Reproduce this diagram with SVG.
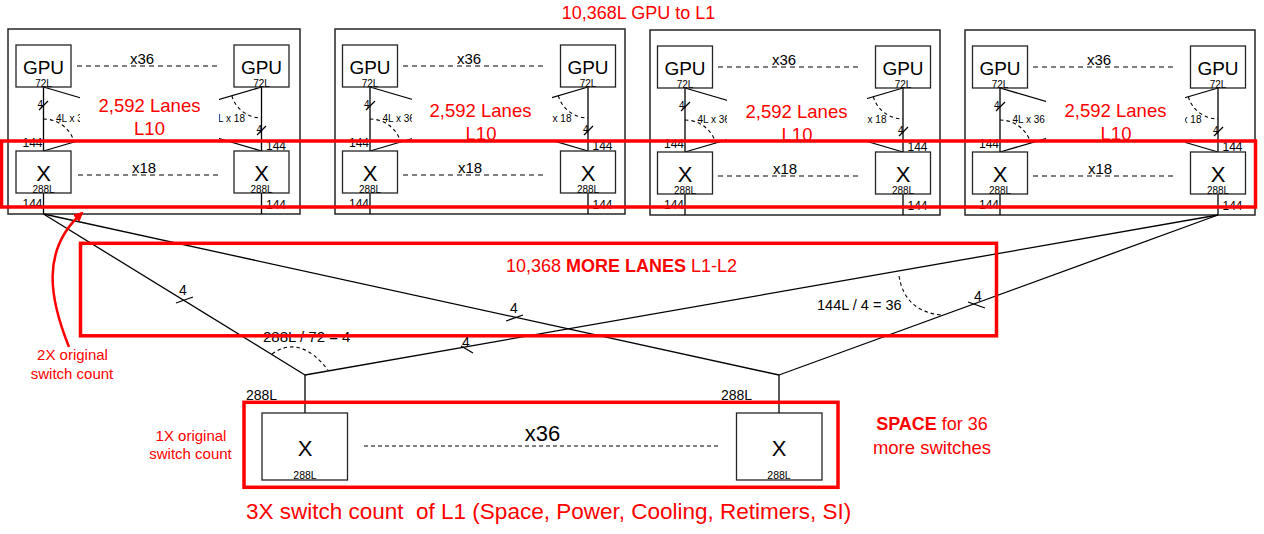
<svg xmlns="http://www.w3.org/2000/svg" width="1264" height="534" viewBox="0 0 1264 534">
<style>
text{font-family:"Liberation Sans",Arial,sans-serif;fill:#000}
.pod{fill:none;stroke:#262626;stroke-width:1.5}
.box{fill:#fff;stroke:#262626;stroke-width:1.3}
.ln{stroke:#000;stroke-width:1.3;fill:none}
.dash{stroke:#000;stroke-width:1.2;stroke-dasharray:5 4;fill:none}
.dash2{stroke:#000;stroke-width:1.2;stroke-dasharray:4 3;fill:none}
.arc{stroke:#000;stroke-width:1.1;stroke-dasharray:3.5 3;fill:none}
.red{fill:none;stroke:#FF0000;stroke-width:3.5}
.rt{fill:#FF0000}
.gpu{font-size:19px;text-anchor:middle}
.xs{font-size:22px;text-anchor:middle}
.sm{font-size:10px;text-anchor:middle}
.mid{font-size:15px;text-anchor:middle}
.n11{font-size:12px}
.n10{font-size:10px}
.big{font-size:18.5px;text-anchor:middle}
.wb{fill:#fff;stroke:none}
</style>
<defs>
<marker id="ah" viewBox="0 0 10 10" refX="8" refY="5" markerWidth="4" markerHeight="4" orient="auto" markerUnits="strokeWidth">
<path d="M0,0 L10,5 L0,10 z" fill="#FF0000"/>
</marker>
</defs>
<rect width="1264" height="534" fill="#fff"/>

<text class="rt" x="638.5" y="18.5" font-size="18" text-anchor="middle">10,368L GPU to L1</text>

<!-- POD 1 -->
<g id="pod1" transform="translate(8,29)">
<rect class="pod" x="0" y="0" width="292" height="185"/>
<g id="pod1-links" class="ln">
<line x1="35.5" y1="58" x2="35.5" y2="122"/><line x1="253.5" y1="58" x2="253.5" y2="122"/>
<line x1="35.5" y1="58" x2="253.5" y2="122"/><line x1="35.5" y1="122" x2="253.5" y2="58"/>
<line x1="35.5" y1="164" x2="35.5" y2="185"/><line x1="253.5" y1="164" x2="253.5" y2="185"/>
<line x1="31" y1="81" x2="40" y2="72"/><line x1="249" y1="106" x2="258" y2="97"/>
<line class="dash" x1="69" y1="37" x2="211" y2="37"/><line class="dash" x1="70" y1="146" x2="212" y2="146"/>
<path class="arc" d="M35.5,90 A32,32 0 0 1 66.2,113"/><path class="arc" d="M223.8,66.7 A31,31 0 0 0 253.5,89"/>
</g>
<g id="pod1-gpu-a"><rect class="box" x="8" y="16" width="55" height="42"/><text class="gpu" x="35.5" y="45">GPU</text><text class="sm" x="35.5" y="58">72L</text></g>
<g id="pod1-gpu-b"><rect class="box" x="226" y="16" width="55" height="42"/><text class="gpu" x="253.5" y="45">GPU</text><text class="sm" x="253.5" y="58">72L</text></g>
<g id="pod1-sw-a"><rect class="box" x="8" y="122" width="55" height="42"/><text class="xs" x="35.5" y="152">X</text><text class="sm" x="35.5" y="164">288L</text></g>
<g id="pod1-sw-b"><rect class="box" x="226" y="122" width="55" height="42"/><text class="xs" x="253.5" y="152">X</text><text class="sm" x="253.5" y="164">288L</text></g>
<text class="mid" x="134" y="34.5">x36</text><text class="mid" x="136" y="143.5">x18</text>
<text class="n11" x="34.5" y="117.5" text-anchor="end">144</text><text class="n11" x="34.5" y="178.5" text-anchor="end">144</text>
<text class="n11" x="258" y="120.5">144</text><text class="n11" x="258" y="179.5">144</text>
<text class="n10" x="35" y="79" text-anchor="end">4</text><text class="n10" x="254" y="104" text-anchor="end">4</text>
<text class="n10" x="48" y="92.5">4L x 36</text><text class="n10" x="237" y="92.5" text-anchor="end">4L x 18</text>
<g id="pod1-label"><rect class="wb" x="72" y="62" width="139" height="54"/>
<text class="big rt" x="141.5" y="82.6">2,592 Lanes</text><text class="big rt" x="141.5" y="105.6">L10</text></g>
</g>

<!-- POD 2 -->
<g id="pod2" transform="translate(335,29)">
<rect class="pod" x="0" y="0" width="290" height="185"/>
<g id="pod2-links" class="ln">
<line x1="35" y1="58" x2="35" y2="122"/><line x1="253" y1="58" x2="253" y2="122"/>
<line x1="35" y1="58" x2="253" y2="122"/><line x1="35" y1="122" x2="253" y2="58"/>
<line x1="35" y1="164" x2="35" y2="185"/><line x1="253" y1="164" x2="253" y2="185"/>
<line x1="31" y1="81" x2="40" y2="72"/><line x1="249" y1="106" x2="258" y2="97"/>
<line class="dash" x1="68" y1="37" x2="210" y2="37"/><line class="dash" x1="68" y1="146" x2="212" y2="146"/>
<path class="arc" d="M35,90 A32,32 0 0 1 65.7,113"/><path class="arc" d="M223.3,66.7 A31,31 0 0 0 253,89"/>
</g>
<g id="pod2-gpu-a"><rect class="box" x="7.5" y="16" width="55" height="42"/><text class="gpu" x="35" y="45">GPU</text><text class="sm" x="35" y="58">72L</text></g>
<g id="pod2-gpu-b"><rect class="box" x="225.5" y="16" width="55" height="42"/><text class="gpu" x="253" y="45">GPU</text><text class="sm" x="253" y="58">72L</text></g>
<g id="pod2-sw-a"><rect class="box" x="7.5" y="122" width="55" height="42"/><text class="xs" x="35" y="152">X</text><text class="sm" x="35" y="164">288L</text></g>
<g id="pod2-sw-b"><rect class="box" x="225.5" y="122" width="55" height="42"/><text class="xs" x="253" y="152">X</text><text class="sm" x="253" y="164">288L</text></g>
<text class="mid" x="134" y="34.5">x36</text><text class="mid" x="135" y="143.5">x18</text>
<text class="n11" x="34" y="117.5" text-anchor="end">144</text><text class="n11" x="34" y="178.5" text-anchor="end">144</text>
<text class="n11" x="257.5" y="120.5">144</text><text class="n11" x="257.5" y="179.5">144</text>
<text class="n10" x="34.5" y="79" text-anchor="end">4</text><text class="n10" x="253.5" y="104" text-anchor="end">4</text>
<text class="n10" x="47.5" y="92.5">4L x 36</text><text class="n10" x="236.5" y="92.5" text-anchor="end">4L x 18</text>
<g id="pod2-label"><rect class="wb" x="77" y="62" width="140" height="54"/>
<text class="big rt" x="145.5" y="87.6">2,592 Lanes</text><text class="big rt" x="146" y="110.6">L10</text></g>
</g>

<!-- POD 3 -->
<g id="pod3" transform="translate(650,30)">
<rect class="pod" x="0" y="0" width="290" height="185"/>
<g id="pod3-links" class="ln">
<line x1="35" y1="58" x2="35" y2="122"/><line x1="253" y1="58" x2="253" y2="122"/>
<line x1="35" y1="58" x2="253" y2="122"/><line x1="35" y1="122" x2="253" y2="58"/>
<line x1="35" y1="164" x2="35" y2="185"/><line x1="253" y1="164" x2="253" y2="185"/>
<line x1="31" y1="81" x2="40" y2="72"/><line x1="249" y1="106" x2="258" y2="97"/>
<line class="dash" x1="68" y1="37" x2="210" y2="37"/><line class="dash" x1="68" y1="146" x2="212" y2="146"/>
<path class="arc" d="M35,90 A32,32 0 0 1 65.7,113"/><path class="arc" d="M223.3,66.7 A31,31 0 0 0 253,89"/>
</g>
<g id="pod3-gpu-a"><rect class="box" x="7.5" y="16" width="55" height="42"/><text class="gpu" x="35" y="45">GPU</text><text class="sm" x="35" y="58">72L</text></g>
<g id="pod3-gpu-b"><rect class="box" x="225.5" y="16" width="55" height="42"/><text class="gpu" x="253" y="45">GPU</text><text class="sm" x="253" y="58">72L</text></g>
<g id="pod3-sw-a"><rect class="box" x="7.5" y="122" width="55" height="42"/><text class="xs" x="35" y="152">X</text><text class="sm" x="35" y="164">288L</text></g>
<g id="pod3-sw-b"><rect class="box" x="225.5" y="122" width="55" height="42"/><text class="xs" x="253" y="152">X</text><text class="sm" x="253" y="164">288L</text></g>
<text class="mid" x="134" y="34.5">x36</text><text class="mid" x="135" y="143.5">x18</text>
<text class="n11" x="34" y="117.5" text-anchor="end">144</text><text class="n11" x="34" y="178.5" text-anchor="end">144</text>
<text class="n11" x="257.5" y="120.5">144</text><text class="n11" x="257.5" y="179.5">144</text>
<text class="n10" x="34.5" y="79" text-anchor="end">4</text><text class="n10" x="253.5" y="104" text-anchor="end">4</text>
<text class="n10" x="47.5" y="92.5">4L x 36</text><text class="n10" x="236.5" y="92.5" text-anchor="end">4L x 18</text>
<g id="pod3-label"><rect class="wb" x="77" y="62" width="140" height="54"/>
<text class="big rt" x="146.5" y="87.6">2,592 Lanes</text><text class="big rt" x="147" y="110.6">L10</text></g>
</g>

<!-- POD 4 -->
<g id="pod4" transform="translate(965,30)">
<rect class="pod" x="0" y="0" width="290" height="185"/>
<g id="pod4-links" class="ln">
<line x1="35" y1="58" x2="35" y2="122"/><line x1="253" y1="58" x2="253" y2="122"/>
<line x1="35" y1="58" x2="253" y2="122"/><line x1="35" y1="122" x2="253" y2="58"/>
<line x1="35" y1="164" x2="35" y2="185"/><line x1="253" y1="164" x2="253" y2="185"/>
<line x1="31" y1="81" x2="40" y2="72"/><line x1="249" y1="106" x2="258" y2="97"/>
<line class="dash" x1="68" y1="37" x2="210" y2="37"/><line class="dash" x1="68" y1="146" x2="212" y2="146"/>
<path class="arc" d="M35,90 A32,32 0 0 1 65.7,113"/><path class="arc" d="M223.3,66.7 A31,31 0 0 0 253,89"/>
</g>
<g id="pod4-gpu-a"><rect class="box" x="7.5" y="16" width="55" height="42"/><text class="gpu" x="35" y="45">GPU</text><text class="sm" x="35" y="58">72L</text></g>
<g id="pod4-gpu-b"><rect class="box" x="225.5" y="16" width="55" height="42"/><text class="gpu" x="253" y="45">GPU</text><text class="sm" x="253" y="58">72L</text></g>
<g id="pod4-sw-a"><rect class="box" x="7.5" y="122" width="55" height="42"/><text class="xs" x="35" y="152">X</text><text class="sm" x="35" y="164">288L</text></g>
<g id="pod4-sw-b"><rect class="box" x="225.5" y="122" width="55" height="42"/><text class="xs" x="253" y="152">X</text><text class="sm" x="253" y="164">288L</text></g>
<text class="mid" x="134" y="34.5">x36</text><text class="mid" x="135" y="143.5">x18</text>
<text class="n11" x="34" y="117.5" text-anchor="end">144</text><text class="n11" x="34" y="178.5" text-anchor="end">144</text>
<text class="n11" x="257.5" y="120.5">144</text><text class="n11" x="257.5" y="179.5">144</text>
<text class="n10" x="34.5" y="79" text-anchor="end">4</text><text class="n10" x="253.5" y="104" text-anchor="end">4</text>
<text class="n10" x="47.5" y="92.5">4L x 36</text><text class="n10" x="236.5" y="92.5" text-anchor="end">4L x 18</text>
<g id="pod4-label"><rect class="wb" x="81" y="62" width="139" height="54"/>
<text class="big rt" x="150.5" y="86.6">2,592 Lanes</text><text class="big rt" x="151" y="109.6">L10</text></g>
</g>

<!-- L1-L2 connectors -->
<g id="connectors" class="ln">
<line x1="43.5" y1="214" x2="305" y2="375"/>
<line x1="43.5" y1="214" x2="779" y2="375"/>
<line x1="1218" y1="215" x2="305" y2="375"/>
<line x1="1218" y1="215" x2="779" y2="375"/>
<line x1="305" y1="375" x2="305" y2="413"/>
<line x1="779" y1="375" x2="779" y2="413"/>
<line x1="176" y1="303" x2="193" y2="297"/>
<line x1="506" y1="321" x2="523" y2="315"/>
<line x1="461" y1="346" x2="473" y2="353"/>
<line x1="968" y1="302" x2="985" y2="308"/>
<path class="arc" d="M272,354 Q300,334 328,370"/>
<path class="arc" d="M899,276 Q905,312 942,315"/>
<line class="dash2" x1="364" y1="446" x2="718" y2="446"/>
</g>
<g font-size="14" text-anchor="middle">
<text x="183" y="295">4</text>
<text x="514" y="313">4</text>
<text x="466" y="347">4</text>
<text x="978" y="301">4</text>
</g>
<text x="263" y="342" font-size="15">288L / 72 = 4</text>
<text x="817" y="310" font-size="14.5">144L / 4 = 36</text>

<!-- L2 switches -->
<g id="l2-sw-a"><rect class="box" x="262" y="413" width="85.5" height="67"/><text x="305" y="456" font-size="22" text-anchor="middle">X</text><text x="305" y="479" font-size="10.5" text-anchor="middle">288L</text></g>
<g id="l2-sw-b"><rect class="box" x="736.5" y="413" width="85.5" height="67"/><text x="779" y="456" font-size="22" text-anchor="middle">X</text><text x="779" y="479" font-size="10.5" text-anchor="middle">288L</text></g>
<text x="246" y="400" font-size="14">288L</text>
<text x="721" y="400" font-size="14">288L</text>
<text x="542.5" y="440.5" font-size="22" text-anchor="middle">x36</text>

<!-- red highlight boxes -->
<rect class="red" x="1.5" y="141" width="1254" height="66"/>
<rect class="red" x="80.5" y="243.3" width="916" height="92.5"/>
<rect class="red" x="244" y="402.3" width="594" height="85"/>

<text class="rt" x="621.5" y="272" font-size="18" text-anchor="middle">10,368 <tspan font-weight="bold">MORE LANES</tspan> L1-L2</text>

<path d="M69,347 C50,300 40,250 82,213" fill="none" stroke="#FF0000" stroke-width="2.5" marker-end="url(#ah)"/>
<text class="rt" x="72.5" y="360" font-size="15" text-anchor="middle">2X original</text>
<text class="rt" x="72" y="379" font-size="15" text-anchor="middle">switch count</text>
<text class="rt" x="191" y="441" font-size="15" text-anchor="middle">1X original</text>
<text class="rt" x="190.5" y="459" font-size="15" text-anchor="middle">switch count</text>
<text class="rt" x="932" y="430" font-size="18" text-anchor="middle"><tspan font-weight="bold">SPACE</tspan> for 36</text>
<text class="rt" x="932" y="454" font-size="18.5" text-anchor="middle">more switches</text>
<text class="rt" x="246" y="518.5" font-size="22.5" style="white-space:pre">3X switch count  of L1 (Space, Power, Cooling, Retimers, SI)</text>
</svg>
